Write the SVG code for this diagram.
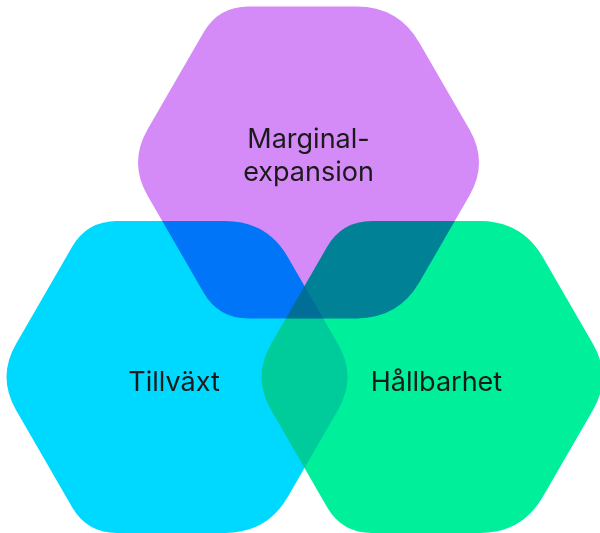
<svg xmlns="http://www.w3.org/2000/svg" xmlns:xlink="http://www.w3.org/1999/xlink" width="600" height="533" viewBox="0 0 600 533">
  <style>
    .hex { mix-blend-mode: multiply; }
    .label { font-family: Inter, "Liberation Sans", sans-serif; font-size: 27px; fill: #1a1a1a; text-anchor: middle; }
  </style>
  <defs>
    <path id="hexshape" d="M-161,-32.9 L-105,-130 Q-90,-156 -60,-156 L48,-156 Q90,-156 111,-119.6 L161,-32.9 Q180,0 161,32.9 L111,119.6 Q90,156 48,156 L-60,156 Q-90,156 -105,130 L-161,32.9 Q-180,0 -161,-32.9 Z"/>
  </defs>
  <rect width="600" height="533" fill="#ffffff"/>
  <g id="diagram" style="isolation:isolate">
    <g id="node-marginalexpansion" class="hex">
      <use xlink:href="#hexshape" href="#hexshape" transform="translate(308.5,162.5)" fill="#d48af7"/>
    </g>
    <g id="node-tillvaxt" class="hex">
      <use xlink:href="#hexshape" href="#hexshape" transform="translate(177,377)" fill="#00d9ff"/>
    </g>
    <g id="node-hallbarhet" class="hex">
      <use xlink:href="#hexshape" href="#hexshape" transform="translate(432,377)" fill="#00ef9b"/>
    </g>
  </g>
  <g id="connectors"/>
  <g id="labels">
    <text class="label" x="308.5" y="148">Marginal-</text>
    <text class="label" x="308.5" y="181">expansion</text>
    <text class="label" x="174" y="391">Tillväxt</text>
    <text class="label" x="436.5" y="391">Hållbarhet</text>
  </g>
</svg>
